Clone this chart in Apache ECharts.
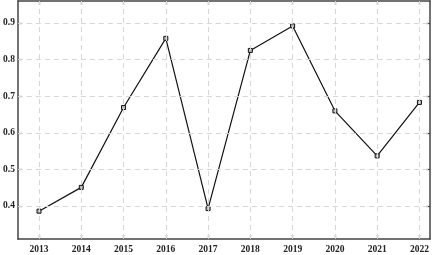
<!DOCTYPE html>
<html><head><meta charset="utf-8">
<script src="https://cdn.jsdelivr.net/npm/echarts@6/dist/echarts.min.js"></script>
<style>html,body{margin:0;padding:0;background:#fff}#c{width:433px;height:255px}</style>
</head><body><div id="c"></div>
<script>
var years = [2013, 2014, 2015, 2016, 2017, 2018, 2019, 2020, 2021, 2022];
var values = [0.386, 0.451, 0.669, 0.858, 0.393, 0.825, 0.892, 0.660, 0.537, 0.683];
var yTicks = [0.4, 0.5, 0.6, 0.7, 0.8, 0.9];

var font = 'Liberation Serif';
var axisColor = '#444';
var gridColor = '#d6d6d6';
function xAxisCfg(showLabel, pos) {
  return {
    type: 'value', position: pos, min: 2012.5, max: 2022.25,
    axisLine: {show: true, onZero: false, lineStyle: {color: axisColor, width: 1.5}},
    axisTick: {show: true, inside: true, length: 4, customValues: years, lineStyle: {color: axisColor, width: 1.2}},
    axisLabel: {show: showLabel, customValues: years, margin: 6, fontFamily: font, fontSize: 9.5, fontWeight: 'bold', color: '#222', formatter: function(v){return String(v);}},
    splitLine: {show: false}
  };
}
function yAxisCfg(showLabel, pos) {
  return {
    type: 'value', position: pos, min: 0.31, max: 0.96,
    axisLine: {show: true, onZero: false, lineStyle: {color: axisColor, width: 1.5}},
    axisTick: {show: true, inside: true, length: 4, customValues: yTicks, lineStyle: {color: axisColor, width: 1.2}},
    axisLabel: {show: showLabel, customValues: yTicks, margin: 3, fontFamily: font, fontSize: 9.5, fontWeight: 'bold', color: '#222', formatter: function(v){return v.toFixed(1);}},
    splitLine: {show: false}
  };
}
var gridLines = years.map(function(y){ return {xAxis: y}; })
  .concat(yTicks.map(function(v){ return {yAxis: v}; }));

var chart = echarts.init(document.getElementById('c'), null, {renderer: 'canvas'});
chart.setOption({
  animation: false,
  grid: {left: 16, right: 3, top: 1, bottom: 16, containLabel: false},
  xAxis: [xAxisCfg(true, 'bottom'), xAxisCfg(false, 'top')],
  yAxis: [yAxisCfg(true, 'left'), yAxisCfg(false, 'right')],
  series: [{
    type: 'line', z: 1, data: [], silent: true,
    markLine: {silent: true, symbol: 'none', animation: false, label: {show: false},
      lineStyle: {color: gridColor, type: [5, 4], width: 1},
      emphasis: {disabled: true},
      data: gridLines}
  }, {
    type: 'line', z: 3,
    data: years.map(function(y, i){ return [y, values[i]]; }),
    symbol: 'rect', symbolSize: 4,
    lineStyle: {color: '#111', width: 1.2},
    itemStyle: {color: '#bbb', borderColor: '#111', borderWidth: 1}
  }]
});
</script></body></html>
